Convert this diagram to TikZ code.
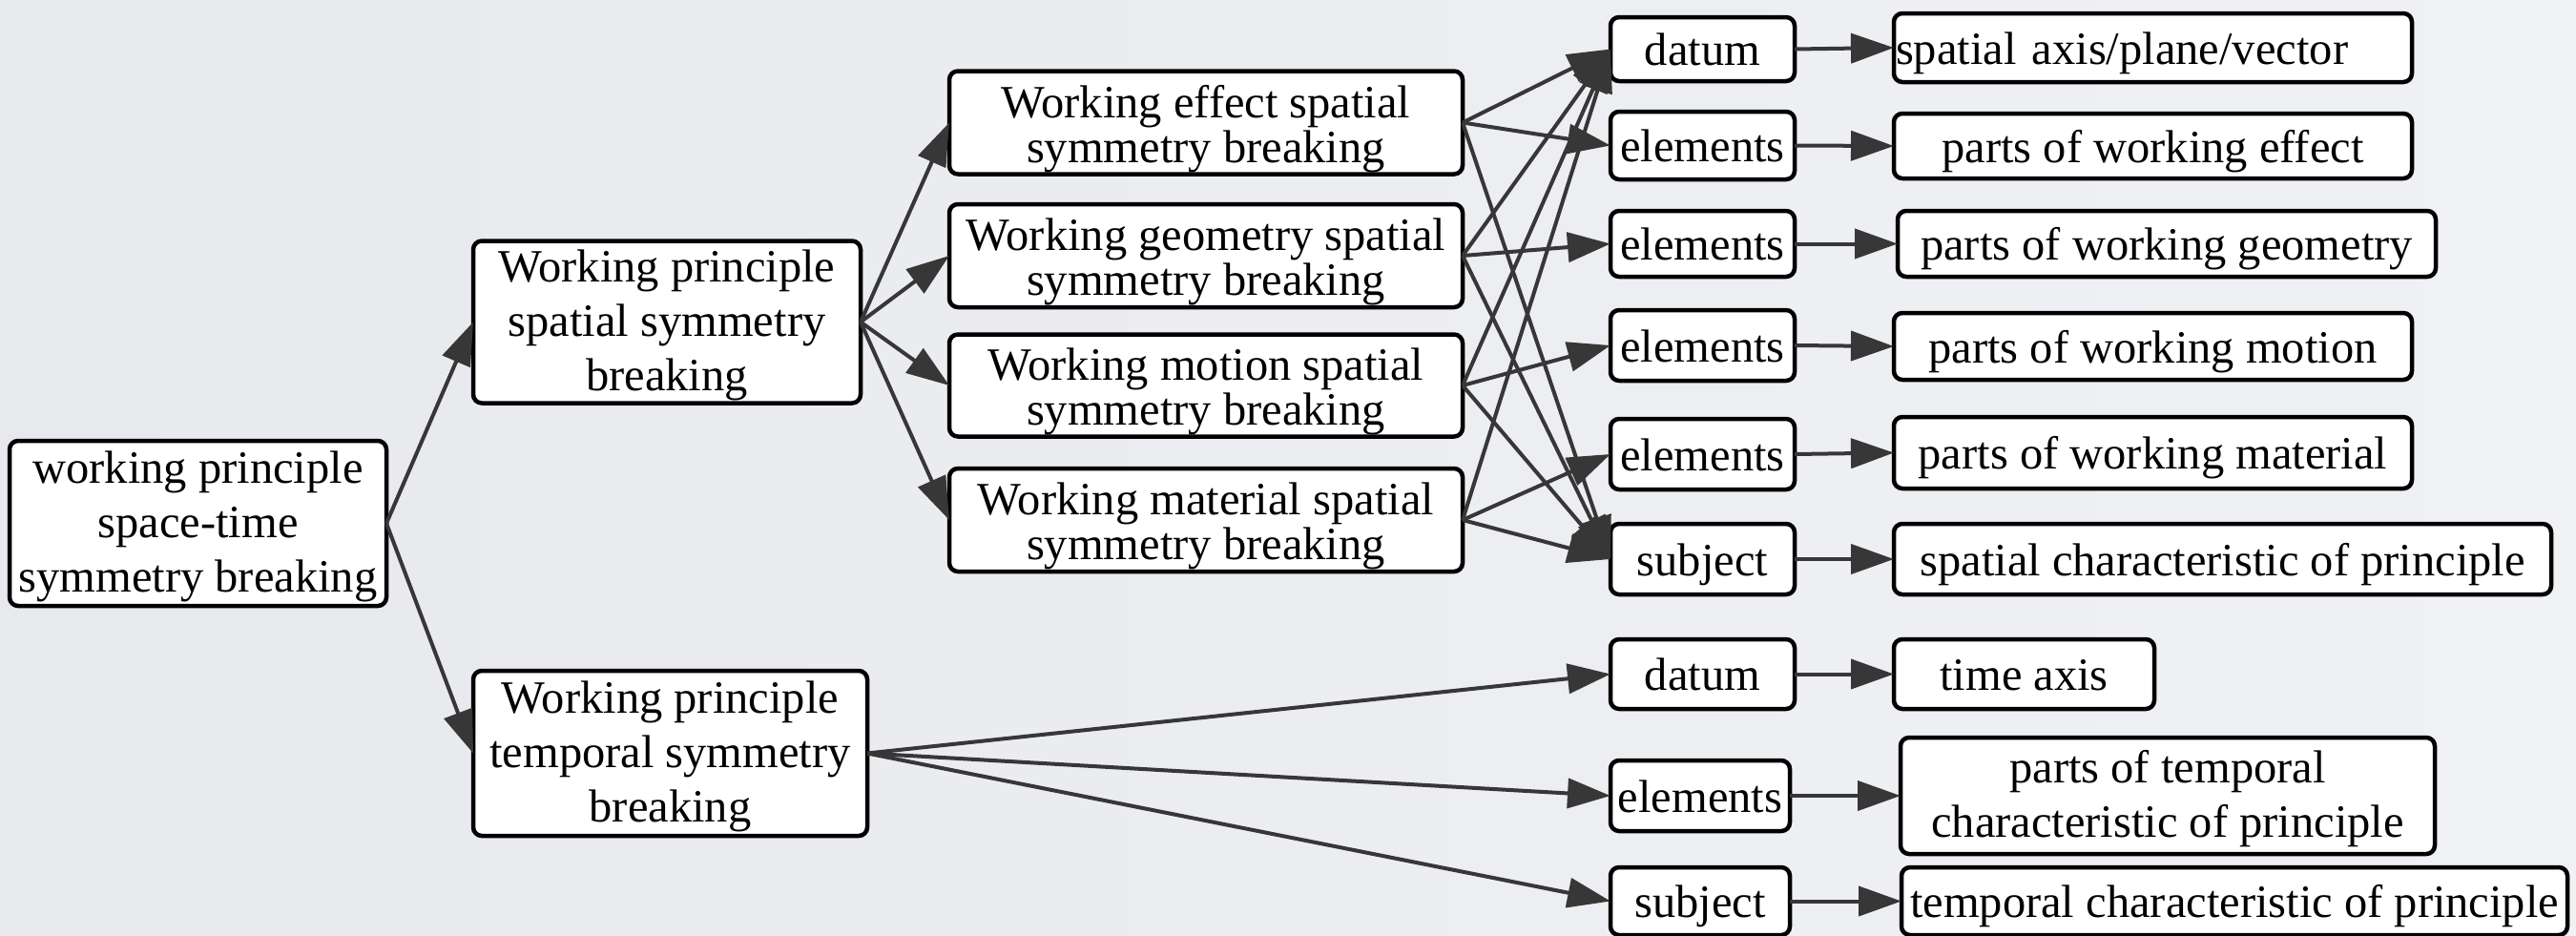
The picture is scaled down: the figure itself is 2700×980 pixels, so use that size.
\documentclass[tikz,border=0pt]{standalone}
\usepackage{fontspec}
\setmainfont{Liberation Serif}
\usetikzlibrary{arrows.meta}
\definecolor{bgL}{RGB}{231,233,237}
\definecolor{bgR}{RGB}{240,241,244}
\definecolor{edgec}{RGB}{55,55,55}
\newcommand\sttop{\rule{0pt}{45pt}}
\newcommand\sttopm{\rule{0pt}{41pt}}
\newcommand\sttopc{\rule{0pt}{47pt}}
\newcommand\stbot{\rule[-11pt]{0pt}{11pt}}
\tikzset{
  bx/.style={draw=black, fill=white, line width=4.5pt, rounded corners=9pt,
    outer sep=0pt, inner sep=2pt, align=center,
    font=\fontsize{48.5pt}{57pt}\selectfont},
  bxc/.style={bx, inner ysep=0pt, font=\fontsize{48.5pt}{47pt}\selectfont},
  conn/.style={draw=edgec, line width=4pt, -{Triangle[length=45pt,width=31pt]}},
}
\begin{document}
\begin{tikzpicture}[x=1pt,y=-1pt]
\useasboundingbox (0,0) rectangle (2700,980);
\shade[left color=bgL, right color=bgR] (0,0) rectangle (2700,980);

% column 1-2
\node[bx, minimum width=395, minimum height=173] (root) at (207.5,548.5)
  {\sttopm working principle\\space-time\\symmetry breaking\stbot};
\node[bx, minimum width=406, minimum height=165] (swp) at (699,337.5)
  {\sttopm Working principle\\spatial symmetry\\breaking\stbot};
\node[bx, minimum width=413, minimum height=173] (twp) at (702.5,789.5)
  {\sttopm Working principle\\temporal symmetry\\breaking\stbot};

% column 3
\node[bxc, minimum width=538, minimum height=108] (eff) at (1264,128.5)
  {\sttopc Working effect spatial\\symmetry breaking\stbot};
\node[bxc, minimum width=538, minimum height=108] (geo) at (1264,268)
  {\sttopc Working geometry spatial\\symmetry breaking\stbot};
\node[bxc, minimum width=538, minimum height=107] (mot) at (1264,404)
  {\sttopc Working motion spatial\\symmetry breaking\stbot};
\node[bxc, minimum width=538, minimum height=108] (mat) at (1264,545)
  {\sttopc Working material spatial\\symmetry breaking\stbot};

% column 4
\node[bx, minimum width=193, minimum height=67] (datum) at (1784.5,51.5) {\sttop datum\stbot};
\node[bx, minimum width=193, minimum height=71] (el1) at (1784.5,152.5) {\sttop elements\stbot};
\node[bx, minimum width=193, minimum height=69] (el2) at (1784.5,255.5) {\sttop elements\stbot};
\node[bx, minimum width=193, minimum height=74] (el3) at (1784.5,362) {\sttop elements\stbot};
\node[bx, minimum width=193, minimum height=74] (el4) at (1784.5,476) {\sttop elements\stbot};
\node[bx, minimum width=193, minimum height=74] (subj) at (1784.5,586) {\sttop subject\stbot};
\node[bx, minimum width=193, minimum height=73] (datum2) at (1784.5,706.5) {\sttop datum\stbot};
\node[bx, minimum width=188, minimum height=74] (el5) at (1782,834) {\sttop elements\stbot};
\node[bx, minimum width=188, minimum height=71] (subj2) at (1782,944.5) {\sttop subject\stbot};

% column 5
\node[bx, align=left, text width=539, minimum height=72] (axis) at (2256.5,50)
  {\sttop spatial axis/plane/vector\stbot};
\node[bx, minimum width=543, minimum height=68] (peff) at (2256.5,153) {\sttop parts of working effect\stbot};
\node[bx, minimum width=564, minimum height=69] (pgeo) at (2271,255.5) {\sttop parts of working geometry\stbot};
\node[bx, minimum width=543, minimum height=70] (pmot) at (2256.5,363) {\sttop parts of working motion\stbot};
\node[bx, minimum width=543, minimum height=75] (pmat) at (2256.5,474.5) {\sttop parts of working material\stbot};
\node[bx, minimum width=689, minimum height=74] (spch) at (2329.5,586) {\sttop spatial characteristic of principle\stbot};
\node[bx, minimum width=273, minimum height=73] (tax) at (2121.5,706.5) {\sttop time axis\stbot};
\node[bx, minimum width=560, minimum height=122] (ptem) at (2272,834)
  {\sttopm parts of temporal\\characteristic of principle\stbot};
\node[bx, minimum width=698, minimum height=71] (tch) at (2342,944.5) {\sttop temporal characteristic of principle\stbot};

% connectors
\draw[conn] (root.east) -- (swp.west);
\draw[conn] (root.east) -- (twp.west);
\foreach \c in {eff,geo,mot,mat} {\draw[conn] (swp.east) -- (\c.west);}
\draw[conn] (eff.east) -- (datum.west);
\draw[conn] (eff.east) -- (el1.west);
\draw[conn] (eff.east) -- (subj.west);
\draw[conn] (geo.east) -- (datum.west);
\draw[conn] (geo.east) -- (el2.west);
\draw[conn] (geo.east) -- (subj.west);
\draw[conn] (mot.east) -- (datum.west);
\draw[conn] (mot.east) -- (el3.west);
\draw[conn] (mot.east) -- (subj.west);
\draw[conn] (mat.east) -- (datum.west);
\draw[conn] (mat.east) -- (el4.west);
\draw[conn] (mat.east) -- (subj.west);
\draw[conn] (twp.east) -- (datum2.west);
\draw[conn] (twp.east) -- (el5.west);
\draw[conn] (twp.east) -- (subj2.west);
\draw[conn] (datum.east) -- (axis.west);
\draw[conn] (el1.east) -- (peff.west);
\draw[conn] (el2.east) -- (pgeo.west);
\draw[conn] (el3.east) -- (pmot.west);
\draw[conn] (el4.east) -- (pmat.west);
\draw[conn] (subj.east) -- (spch.west);
\draw[conn] (datum2.east) -- (tax.west);
\draw[conn] (el5.east) -- (ptem.west);
\draw[conn] (subj2.east) -- (tch.west);
\end{tikzpicture}
\end{document}
